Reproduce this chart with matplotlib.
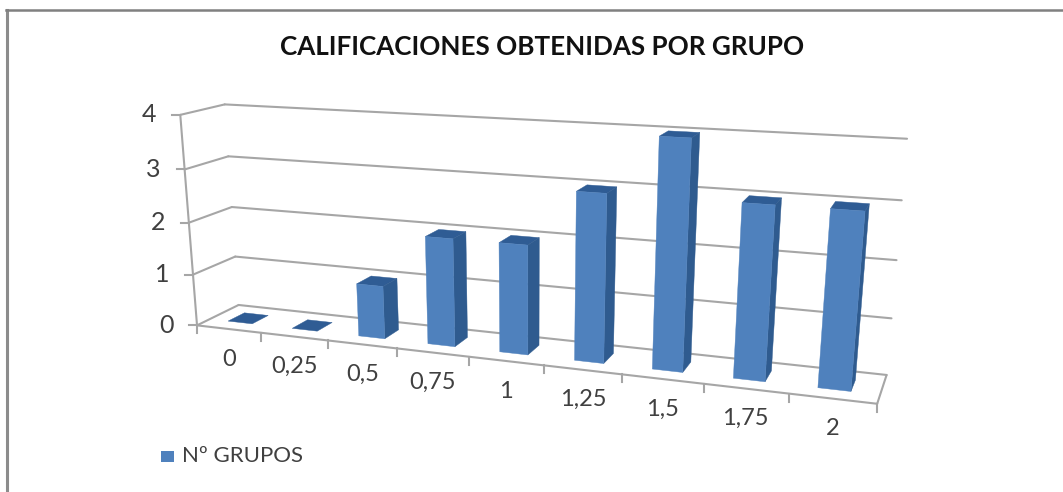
import matplotlib
matplotlib.use("Agg")
import matplotlib.pyplot as plt
from matplotlib.patches import Polygon, Rectangle
import numpy as np

plt.rcParams["font.family"] = ["Lato", "DejaVu Sans"]

# chart data
categories = ["0", "0,25", "0,5", "0,75", "1", "1,25", "1,5", "1,75", "2"]
n_grupos = [0, 0, 1, 2, 2, 3, 4, 3, 3]
value_ticks = [0, 1, 2, 3, 4]
title = "CALIFICACIONES OBTENIDAS POR GRUPO"
series_name = "Nº GRUPOS"

FRONT = "#4f81bd"
SIDE = "#2f5b8f"
TOP = "#2f5c94"
GRID = "#a6a6a6"
TEXT = "#404040"

# box corners on the canvas, used to solve the camera: (category, depth, value) -> (px, py)
n_cat = len(categories)
anchors = [
    ((0, 0, 0), (198, 323)), ((0, 1, 0), (238, 305)),
    ((0, 0, 4), (180, 114)), ((0, 1, 4), (225, 105)),
    ((n_cat, 0, 0), (877, 402)), ((n_cat, 1, 0), (887, 374)),
    ((n_cat, 1, 4), (907, 139)),
    ((1, 0, 0), (261, 333)), ((2, 0, 0), (328, 342)), ((3, 0, 0), (397, 350)),
    ((7, 0, 0), (703, 384)), ((8, 0, 0), (789, 395)),
]


def solve_camera(points):
    """Least squares 3x4 projection matrix from point pairs"""
    rows = []
    for (x, y, z), (u, v) in points:
        rows.append([x, y, z, 1, 0, 0, 0, 0, -u * x, -u * y, -u * z, -u])
        rows.append([0, 0, 0, 0, x, y, z, 1, -v * x, -v * y, -v * z, -v])
    return np.linalg.svd(np.array(rows, dtype=float))[2][-1].reshape(3, 4)


camera = solve_camera(anchors)


def project(x, y, z):
    """Chart coordinates to canvas pixels"""
    u, v, w = camera @ np.array([x, y, z, 1.0])
    return u / w, v / w


fig = plt.figure(figsize=(10.63, 4.92), dpi=100)
ax = fig.add_axes([0, 0, 1, 1])
ax.set_xlim(0, 1063)
ax.set_ylim(492, 0)
ax.axis("off")


def line3d(a, b, lw=1.5, color=GRID):
    pa, pb = project(*a), project(*b)
    ax.plot([pa[0], pb[0]], [pa[1], pb[1]], color=color, lw=lw, solid_capstyle="round", zorder=1)


def face(corners, color, zorder=3):
    ax.add_patch(Polygon([project(*c) for c in corners], closed=True, facecolor=color,
                         edgecolor=color, lw=0.3, zorder=zorder))


# outer frame of the chart, open on the right
ax.plot([7, 7], [9.5, 492], color="#8c8c8c", lw=2.2, zorder=1)
ax.plot([6, 1063], [9.5, 9.5], color="#808080", lw=1.8, zorder=1)

# walls and floor
for v in value_ticks:
    line3d((0, 0, v), (0, 1, v))
    line3d((0, 1, v), (n_cat, 1, v))
    px, py = project(0, 0, v)
    ax.plot([px - 8, px], [py, py], color=GRID, lw=1.5, zorder=1)
    ax.text(px - 31, py, str(v), fontsize=18, color=TEXT, ha="center", va="center")
line3d((0, 0, 0), (0, 0, value_ticks[-1]))
line3d((0, 0, 0), (n_cat, 0, 0))
line3d((n_cat, 0, 0), (n_cat, 1, 0))

# category ticks under the front edge
for i in range(n_cat + 1):
    px, py = project(i, 0, 0)
    ax.plot([px, px], [py, py + 8], color=GRID, lw=1.5, zorder=1)
for i, label in enumerate(categories):
    px, py = project(i + 0.5, 0, 0)
    ax.text(px, py + 30, label, fontsize=17, color=TEXT, ha="center", va="center")

# bars
x0, x1 = 0.29, 0.67
d0, d1 = 0.3, 0.7
for i, value in enumerate(n_grupos):
    a, b = i + x0, i + x1
    face([(a, d0, value), (b, d0, value), (b, d1, value), (a, d1, value)], TOP)
    if value > 0:
        face([(b, d0, 0), (b, d1, 0), (b, d1, value), (b, d0, value)], SIDE)
        face([(a, d0, 0), (b, d0, 0), (b, d0, value), (a, d0, value)], FRONT, zorder=4)

ax.text(542, 47, title, fontsize=18.7, fontweight="bold", color="#111111", ha="center", va="center")

# legend
ax.add_patch(Rectangle((161, 451), 13, 11, facecolor=FRONT, edgecolor="none"))
ax.text(182, 456, series_name, fontsize=16, color=TEXT, ha="left", va="center")

fig.savefig("out.png", dpi=100)
